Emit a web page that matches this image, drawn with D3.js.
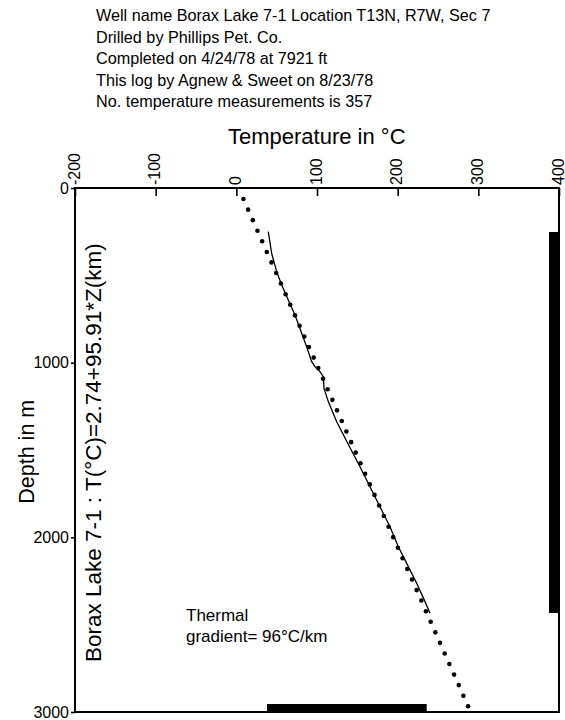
<!DOCTYPE html>
<html>
<head>
<meta charset="utf-8">
<script src="https://cdn.jsdelivr.net/npm/d3@7"></script>
<style>
  html, body { margin: 0; padding: 0; background: #fff; }
  svg { display: block; }
  text { font-family: "Liberation Sans", Arial, Helvetica, sans-serif; fill: #000; }
</style>
</head>
<body>
<svg id="chart" width="565" height="720"></svg>
<script>
// Header information about the well
const headerLines = [
  "Well name Borax Lake 7-1 Location T13N, R7W, Sec 7",
  "Drilled by Phillips Pet. Co.",
  "Completed on 4/24/78 at 7921 ft",
  "This log by Agnew & Sweet on 8/23/78",
  "No. temperature measurements is 357"
];

// Axis ticks
const tempTicks = [-200, -100, 0, 100, 200, 300, 400];
const depthTicks = [0, 1000, 2000, 3000];

// Measured temperature log (depth in m, temperature in °C)
const logDepth = [250, 374, 479, 555, 641, 727, 832, 909, 994, 1023, 1052, 1080, 1147, 1223,
                  1338, 1450, 1596, 1710, 1825, 1939, 2054, 2149, 2263, 2368, 2435];
const logTemp  = [39.6, 43.8, 50.0, 56.2, 64.4, 72.7, 81.0, 87.2, 93.4, 97.5, 103.7, 107.8, 108.7, 114.0,
                  124.4, 136.8, 153.3, 165.7, 178.1, 190.5, 200.8, 211.2, 223.6, 233.9, 240.1];

// Linear fit T(°C) = 2.74 + 95.91 * Z(km), sampled along depth
const fitDepth = [63, 124, 184, 245, 305, 366, 426, 487, 547, 608, 668, 729, 789, 850, 910, 971,
                  1031, 1092, 1152, 1213, 1273, 1334, 1394, 1455, 1515, 1576, 1636, 1697, 1757, 1818,
                  1878, 1939, 1999, 2060, 2120, 2181, 2241, 2302, 2362, 2423, 2483, 2544, 2604, 2665,
                  2725, 2786, 2846, 2907, 2967];
const fitTemp  = [8.8, 14.6, 20.4, 26.2, 32.0, 37.8, 43.6, 49.4, 55.2, 61.1, 66.8, 72.7, 78.4, 84.3, 90.0, 95.9,
                  101.6, 107.5, 113.2, 119.1, 124.8, 130.7, 136.4, 142.3, 148.0, 153.9, 159.6, 165.5, 171.3, 177.1,
                  182.9, 188.7, 194.5, 200.3, 206.1, 211.9, 217.7, 223.5, 229.3, 235.1, 240.9, 246.7, 252.5, 258.3,
                  264.1, 269.9, 275.7, 281.5, 287.3];

// Range of logged depths and temperatures
const depthRange = [252, 2433];
const tempRange = [38, 236];

const titleText = "Temperature in °C";
const depthLabel = "Depth in m";
const fitLabel = "Borax Lake 7-1 : T(°C)=2.74+95.91*Z(km)";
const gradientLines = ["Thermal", "gradient= 96°C/km"];

const svg = d3.select("#chart");
const margin = { left: 75, right: 6, top: 188, bottom: 8 };
const W = 565, H = 720;
const x = d3.scaleLinear().domain([-200, 400]).range([margin.left, W - margin.right]);
const y = d3.scaleLinear().domain([0, 3000]).range([margin.top, H - margin.bottom]);

// Header text block
svg.append("g")
  .selectAll("text")
  .data(headerLines)
  .join("text")
  .attr("x", 96)
  .attr("y", (d, i) => 21 + i * 21.5)
  .style("font-size", "16.2px")
  .text(d => d);

// Axis title
svg.append("text")
  .attr("x", 228)
  .attr("y", 144)
  .style("font-size", "22px")
  .text(titleText);

// Top axis (temperature), tick marks pointing into the plot
const topAxis = svg.append("g").attr("transform", `translate(0,${margin.top})`)
  .call(d3.axisBottom(x).tickValues(tempTicks).tickSize(8).tickFormat(""));
topAxis.select(".domain").remove();
topAxis.selectAll(".tick line").attr("stroke", "#000").attr("stroke-width", 1.6);

svg.append("g")
  .selectAll("text")
  .data(tempTicks)
  .join("text")
  .attr("transform", d => `translate(${x(d) + 4.5},${margin.top - 3}) rotate(-90)`)
  .style("font-size", "16px")
  .text(d => d);

// Left axis (depth)
const leftAxis = svg.append("g").attr("transform", `translate(${margin.left},0)`)
  .call(d3.axisLeft(y).tickValues(depthTicks).tickSize(4).tickPadding(2).tickFormat(d3.format("d")));
leftAxis.select(".domain").remove();
leftAxis.selectAll(".tick line").attr("stroke", "#000").attr("stroke-width", 1.6);
leftAxis.selectAll(".tick text")
  .style("font-size", "16px")
  .style("font-family", "'Liberation Sans', Arial, sans-serif")
  .attr("fill", "#000");

// Plot frame
svg.append("rect")
  .attr("x", x(-200)).attr("y", y(0))
  .attr("width", x(400) - x(-200)).attr("height", y(3000) - y(0))
  .attr("fill", "none").attr("stroke", "#000").attr("stroke-width", 2);

// Depth axis label
svg.append("text")
  .attr("transform", `translate(34,${y(1510)}) rotate(-90)`)
  .attr("text-anchor", "middle")
  .style("font-size", "21.5px")
  .text(depthLabel);

// Fit equation label
svg.append("text")
  .attr("transform", `translate(101,662) rotate(-90)`)
  .style("font-size", "22.5px")
  .text(fitLabel);

// Gradient note
svg.append("g")
  .selectAll("text")
  .data(gradientLines)
  .join("text")
  .attr("x", 186)
  .attr("y", (d, i) => 621 + i * 21)
  .style("font-size", "17px")
  .text(d => d);

// Range bars: depth range on the right, temperature range at the bottom
svg.append("rect")
  .attr("x", x(400) - 10).attr("width", 10)
  .attr("y", y(depthRange[0])).attr("height", y(depthRange[1]) - y(depthRange[0]))
  .attr("fill", "#000");
svg.append("rect")
  .attr("x", x(tempRange[0])).attr("width", x(tempRange[1]) - x(tempRange[0]))
  .attr("y", y(3000) - 8).attr("height", 8)
  .attr("fill", "#000");

// Measured log as a solid line
const logData = logDepth.map((d, i) => ({ z: d, t: logTemp[i] }));
svg.append("path")
  .datum(logData)
  .attr("fill", "none")
  .attr("stroke", "#000")
  .attr("stroke-width", 1.3)
  .attr("d", d3.line().x(d => x(d.t)).y(d => y(d.z)));

// Fitted gradient as dots
const fitData = fitDepth.map((d, i) => ({ z: d, t: fitTemp[i] }));
svg.append("g")
  .selectAll("circle")
  .data(fitData)
  .join("circle")
  .attr("cx", d => x(d.t))
  .attr("cy", d => y(d.z))
  .attr("r", 2.3)
  .attr("fill", "#000");
</script>
</body>
</html>
